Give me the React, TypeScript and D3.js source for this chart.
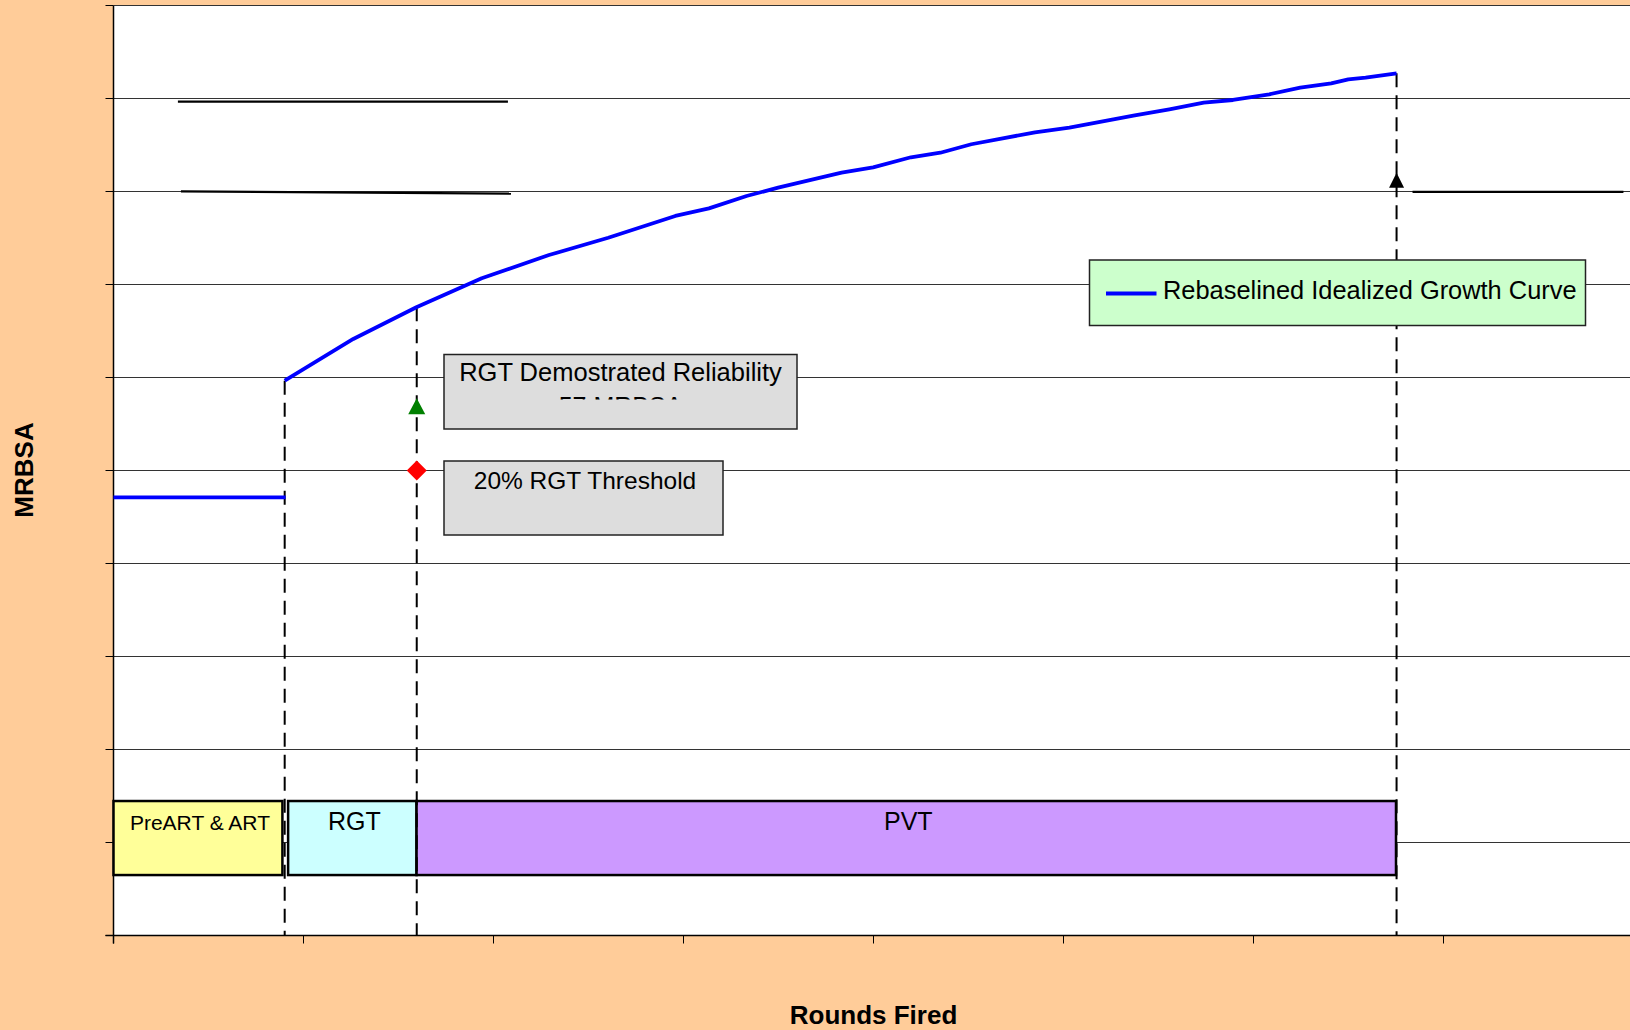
import React from "react";
import * as d3 from "d3";

// ---- data (chart units: x = tick units along Rounds Fired, y = MRBSA gridline units) ----
const xTickValues = [0, 1, 2, 3, 4, 5, 6, 7, 8];
const yTickValues = [0, 1, 2, 3, 4, 5, 6, 7, 8, 9, 10];

const preGrowthX = [0, 0.906];
const preGrowthY = [4.71, 4.71];

const growthX = [0.901, 1.262, 1.594, 1.938, 2.292, 2.604, 2.957, 3.134, 3.332, 3.498, 3.832, 3.998, 4.197, 4.352, 4.515, 4.85, 5.031, 5.375, 5.557, 5.738, 5.892, 6.083, 6.246, 6.409, 6.499, 6.59, 6.753];
const growthY = [5.966, 6.414, 6.755, 7.067, 7.317, 7.503, 7.737, 7.819, 7.952, 8.041, 8.202, 8.26, 8.368, 8.417, 8.508, 8.637, 8.686, 8.819, 8.884, 8.955, 8.984, 9.045, 9.116, 9.163, 9.206, 9.224, 9.271];

const phaseNames = ["PreART & ART", "RGT", "PVT"];
const phaseStart = [0, 0.919, 1.595];
const phaseEnd = [0.889, 1.595, 6.75];
const phaseBand = [0.65, 1.446];

const milestoneX = [0.901, 1.596, 6.753];
const milestoneTopY = [5.966, 6.755, 9.271];

const rgtDemoMarker = { x: 1.596, y: 5.69 };
const thresholdMarker = { x: 1.596, y: 5.0 };
const goalMarker = { x: 6.753, y: 8.12 };

const refLinesX1 = [0.339, 0.355, 6.837];
const refLinesY1 = [8.966, 8.002, 7.995];
const refLinesX2 = [2.076, 2.092, 7.947];
const refLinesY2 = [8.966, 7.977, 7.995];

const legendLabel = "Rebaselined Idealized Growth Curve";
const box1Lines = ["RGT Demostrated Reliability", "57 MRBSA"];
const box2Lines = ["20% RGT Threshold"];
const xTitle = "Rounds Fired";
const yTitle = "MRBSA";

// ---- layout ----
const W = 1630;
const H = 1030;
const LEFT = 113.5;
const RIGHT = 1633.5;
const TOP = 5.5;
const BOTTOM = 935.5;
const FONT = "'Liberation Sans', Arial, Helvetica, sans-serif";
const phaseFill = ["#FFFF99", "#CCFFFF", "#CC99FF"];
const phaseFont = [21, 25, 25];

export default function App() {
  const x = d3.scaleLinear().domain([0, 8]).range([LEFT, RIGHT]);
  const y = d3.scaleLinear().domain([0, 10]).range([BOTTOM, TOP]);

  const line = d3
    .line<number>()
    .x((_, i) => x(growthX[i]))
    .y((d) => y(d));
  const preLine = d3
    .line<number>()
    .x((_, i) => x(preGrowthX[i]))
    .y((d) => y(d));

  const triPath = (cx: number, cy: number, w: number, h: number) =>
    `M${cx},${cy - h / 2}L${cx + w / 2},${cy + h / 2}L${cx - w / 2},${cy + h / 2}Z`;
  const diaPath = (cx: number, cy: number, r: number) =>
    `M${cx},${cy - r}L${cx + r},${cy}L${cx},${cy + r}L${cx - r},${cy}Z`;

  const gx = x(rgtDemoMarker.x);

  return (
    <svg
      width={W}
      height={H}
      style={{ position: "absolute", left: 0, top: 0, display: "block" }}
      fontFamily={FONT}
    >
      <defs>
        <clipPath id="box1Clip">
          <rect x={444} y={354} width={353} height={45.5} />
        </clipPath>
      </defs>
      <rect x={0} y={0} width={W} height={H} fill="#FFCC99" />
      <rect x={LEFT} y={TOP} width={RIGHT - LEFT} height={BOTTOM - TOP} fill="#FFFFFF" />

      {/* gridlines */}
      {yTickValues.map((v) => (
        <line key={"g" + v} x1={LEFT} x2={RIGHT} y1={y(v)} y2={y(v)} stroke="#333" strokeWidth={1} />
      ))}

      {/* reference lines (top-left and right) */}
      <line x1={x(0.405)} x2={x(1.95)} y1={y(9.1)} y2={y(9.1)} stroke="#FFFFFF" strokeWidth={1.5} />
      {refLinesX1.map((v, i) => (
        <line
          key={"r" + i}
          x1={x(v)}
          y1={y(refLinesY1[i])}
          x2={x(refLinesX2[i])}
          y2={y(refLinesY2[i])}
          stroke="#000"
          strokeWidth={2.2}
        />
      ))}

      {/* axes */}
      <line x1={LEFT} x2={LEFT} y1={TOP} y2={BOTTOM + 8} stroke="#000" strokeWidth={1.5} />
      <line x1={LEFT - 8} x2={RIGHT} y1={BOTTOM} y2={BOTTOM} stroke="#000" strokeWidth={1.5} />
      {yTickValues.map((v) => (
        <line key={"yt" + v} x1={LEFT - 8} x2={LEFT} y1={y(v)} y2={y(v)} stroke="#000" strokeWidth={1} />
      ))}
      {xTickValues.map((v) => (
        <line key={"xt" + v} x1={x(v)} x2={x(v)} y1={BOTTOM} y2={BOTTOM + 8} stroke="#000" strokeWidth={1} />
      ))}

      {/* phase boxes */}
      {phaseNames.map((n, i) => {
        const x0 = x(phaseStart[i]);
        const x1 = x(phaseEnd[i]);
        return (
          <g key={n}>
            <rect
              x={x0}
              y={y(phaseBand[1])}
              width={x1 - x0}
              height={y(phaseBand[0]) - y(phaseBand[1])}
              fill={phaseFill[i]}
              stroke="#000"
              strokeWidth={2.5}
            />
            <text x={(x0 + x1) / 2 + 2} y={829.5} textAnchor="middle" fontSize={phaseFont[i]} fill="#000">
              {n}
            </text>
          </g>
        );
      })}

      {/* milestone dashed lines */}
      {milestoneX.map((v, i) => (
        <line
          key={"m" + i}
          x1={x(v)}
          x2={x(v)}
          y1={y(milestoneTopY[i])}
          y2={BOTTOM}
          stroke="#000"
          strokeWidth={2}
          strokeDasharray="14 8"
        />
      ))}

      {/* growth curves */}
      <path d={preLine(preGrowthY) || ""} fill="none" stroke="#0000FF" strokeWidth={3.8} />
      <path d={line(growthY) || ""} fill="none" stroke="#0000FF" strokeWidth={3.8} strokeLinejoin="round" />

      {/* markers */}
      <path d={triPath(gx, y(rgtDemoMarker.y), 17, 16)} fill="#008000" />
      <path d={diaPath(x(thresholdMarker.x), y(thresholdMarker.y), 10)} fill="#FF0000" />
      <path d={triPath(x(goalMarker.x), y(goalMarker.y), 15, 15)} fill="#000000" />

      {/* annotation box 1 */}
      <rect x={444} y={354.5} width={353} height={74.5} fill="#DDDDDD" stroke="#222" strokeWidth={1.5} />
      <text x={620.5} y={380.5} textAnchor="middle" fontSize={25.5} fill="#000">
        {box1Lines[0]}
      </text>
      <g clipPath="url(#box1Clip)">
        <text x={620.5} y={414.5} textAnchor="middle" fontSize={25} fill="#000">
          {box1Lines[1]}
        </text>
      </g>

      {/* annotation box 2 */}
      <rect x={444} y={461} width={279} height={74} fill="#DDDDDD" stroke="#222" strokeWidth={1.5} />
      <text x={585} y={488.5} textAnchor="middle" fontSize={24.5} fill="#000">
        {box2Lines[0]}
      </text>

      {/* legend */}
      <rect x={1089.5} y={260} width={496} height={65.5} fill="#CCFFCC" stroke="#222" strokeWidth={1.5} />
      <line x1={1106} x2={1156.5} y1={293.5} y2={293.5} stroke="#0000FF" strokeWidth={4} />
      <text x={1163} y={298.5} fontSize={25.4} fill="#000">
        {legendLabel}
      </text>

      {/* axis titles */}
      <text x={873.5} y={1024} textAnchor="middle" fontSize={26} fontWeight="bold" fill="#000">
        {xTitle}
      </text>
      <text
        transform={`translate(33,470) rotate(-90)`}
        textAnchor="middle"
        fontSize={26}
        fontWeight="bold"
        fill="#000"
      >
        {yTitle}
      </text>
    </svg>
  );
}
